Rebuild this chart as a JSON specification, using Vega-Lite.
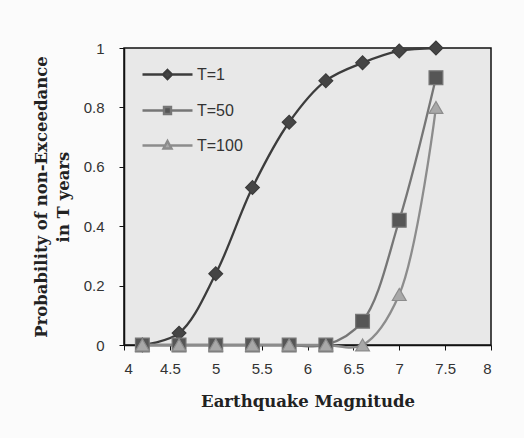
{
  "$schema": "https://vega.github.io/schema/vega-lite/v6.json",
  "autosize": "none",
  "width": 367,
  "height": 297,
  "padding": {"left": 124, "top": 48, "right": 33, "bottom": 93},
  "background": "#fbfbfb",
  "data": {
    "values": [
      {"T": "T=1", "mag": 4.2, "p": 0.0},
      {"T": "T=1", "mag": 4.6, "p": 0.04},
      {"T": "T=1", "mag": 5.0, "p": 0.24},
      {"T": "T=1", "mag": 5.4, "p": 0.53},
      {"T": "T=1", "mag": 5.8, "p": 0.75},
      {"T": "T=1", "mag": 6.2, "p": 0.89},
      {"T": "T=1", "mag": 6.6, "p": 0.95},
      {"T": "T=1", "mag": 7.0, "p": 0.99},
      {"T": "T=1", "mag": 7.4, "p": 1.0},
      {"T": "T=50", "mag": 4.2, "p": 0.0},
      {"T": "T=50", "mag": 4.6, "p": 0.0},
      {"T": "T=50", "mag": 5.0, "p": 0.0},
      {"T": "T=50", "mag": 5.4, "p": 0.0},
      {"T": "T=50", "mag": 5.8, "p": 0.0},
      {"T": "T=50", "mag": 6.2, "p": 0.0},
      {"T": "T=50", "mag": 6.6, "p": 0.08},
      {"T": "T=50", "mag": 7.0, "p": 0.42},
      {"T": "T=50", "mag": 7.4, "p": 0.9},
      {"T": "T=100", "mag": 4.2, "p": 0.0},
      {"T": "T=100", "mag": 4.6, "p": 0.0},
      {"T": "T=100", "mag": 5.0, "p": 0.0},
      {"T": "T=100", "mag": 5.4, "p": 0.0},
      {"T": "T=100", "mag": 5.8, "p": 0.0},
      {"T": "T=100", "mag": 6.2, "p": 0.0},
      {"T": "T=100", "mag": 6.6, "p": 0.0},
      {"T": "T=100", "mag": 7.0, "p": 0.17},
      {"T": "T=100", "mag": 7.4, "p": 0.8}
    ]
  },
  "encoding": {
    "x": {
      "field": "mag",
      "type": "quantitative",
      "scale": {"domain": [4, 8], "nice": false, "zero": false},
      "axis": {
        "title": "Earthquake Magnitude",
        "values": [4, 4.5, 5, 5.5, 6, 6.5, 7, 7.5, 8],
        "format": "~g",
        "labelPadding": 11,
        "titlePadding": 17
      }
    },
    "y": {
      "field": "p",
      "type": "quantitative",
      "scale": {"domain": [0, 1], "nice": false},
      "axis": {
        "title": ["Probability of non-Exceedance", "in T years"],
        "values": [0, 0.2, 0.4, 0.6, 0.8, 1],
        "format": "~g",
        "labelPadding": 15,
        "titlePadding": 12,
        "titleLineHeight": 22
      }
    }
  },
  "layer": [
    {
      "mark": {"type": "line", "interpolate": "catmull-rom", "strokeWidth": 2.3},
      "encoding": {
        "stroke": {
          "field": "T",
          "type": "nominal",
          "scale": {"domain": ["T=1", "T=50", "T=100"], "range": ["#3c3c3c", "#767676", "#8c8c8c"]},
          "legend": null
        }
      }
    },
    {
      "mark": {"type": "point", "filled": false, "strokeWidth": 1.2, "opacity": 1},
      "encoding": {
        "stroke": {
          "field": "T",
          "type": "nominal",
          "scale": {"domain": ["T=1", "T=50", "T=100"], "range": ["#3c3c3c", "#767676", "#8c8c8c"]},
          "legend": null
        },
        "fill": {
          "field": "T",
          "type": "nominal",
          "scale": {"domain": ["T=1", "T=50", "T=100"], "range": ["#454545", "#565656", "#a8a8a8"]},
          "legend": null
        },
        "shape": {
          "field": "T",
          "type": "nominal",
          "scale": {"domain": ["T=1", "T=50", "T=100"], "range": ["diamond", "square", "triangle-up"]},
          "legend": null
        },
        "size": {"value": 190}
      }
    },
    {
      "transform": [{"filter": "datum.p < 0"}],
      "mark": {"type": "point", "filled": false, "strokeWidth": 2.4, "opacity": 1},
      "encoding": {
        "stroke": {
          "field": "T",
          "type": "nominal",
          "scale": {"domain": ["T=1", "T=50", "T=100"], "range": ["#3c3c3c", "#767676", "#8c8c8c"]}
        },
        "fill": {
          "field": "T",
          "type": "nominal",
          "scale": {"domain": ["T=1", "T=50", "T=100"], "range": ["#454545", "#565656", "#a8a8a8"]}
        },
        "shape": {
          "field": "T",
          "type": "nominal",
          "scale": {
            "domain": ["T=1", "T=50", "T=100"],
            "range": [
              "M-2.5,0H-0.45M0.45,0H2.5M0,-0.45L0.45,0L0,0.45L-0.45,0Z",
              "M-2.5,0H-0.35M0.35,0H2.5M-0.35,-0.35H0.35V0.35H-0.35Z",
              "M-2.5,0H-0.24M0.24,0H2.5M0,-0.45L0.4,0.3H-0.4Z"
            ]
          },
          "legend": {
            "orient": "none",
            "legendX": 32,
            "legendY": 15,
            "title": null,
            "padding": 0,
            "symbolSize": 400,
            "symbolStrokeWidth": 2.4,
            "labelOffset": 18,
            "rowPadding": 15,
            "labelFont": "Liberation Sans",
            "labelFontSize": 16,
            "labelColor": "#333333"
          }
        },
        "size": {"value": 400}
      }
    }
  ],
  "resolve": {"scale": {"shape": "independent", "stroke": "independent", "fill": "independent"}},
  "config": {
    "view": {"fill": "#e8e8e8", "stroke": "#111111", "strokeWidth": 1.5},
    "axis": {
      "domainColor": "#111111",
      "domainWidth": 1.5,
      "tickColor": "#111111",
      "tickSize": 5,
      "grid": false,
      "labelFont": "Liberation Sans",
      "labelFontSize": 15,
      "labelColor": "#333333",
      "titleFont": "DejaVu Serif",
      "titleFontWeight": "bold",
      "titleFontSize": 16.5,
      "titleColor": "#222222"
    }
  }
}
